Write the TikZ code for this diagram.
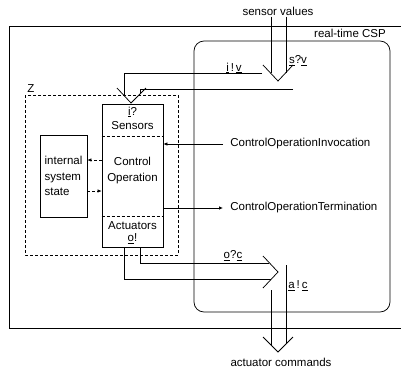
\documentclass[tikz,border=0pt]{standalone}
\usepackage{fontspec}
\setmainfont{Liberation Sans}
\usetikzlibrary{calc,arrows.meta}

\begin{document}
\begin{tikzpicture}[x=1pt, y=-1pt, line width=0.75pt,
  every node/.style={font=\fontsize{11.5}{13}\selectfont, inner sep=1pt},
  box/.style={draw, rectangle, inner sep=0pt},
  sep/.style={densely dashed, line width=0.6pt},
  tip/.style={-{Latex[length=4pt,width=3.5pt]}},
  op/.style={anchor=west, inner xsep=7pt}]
  \useasboundingbox (0,0) rectangle (401,368);
  % frames
  \draw (401,26) -- (9,26) -- (9,328) -- (401,328);
  \draw[rounded corners=10pt] (194,41) rectangle (390,312);
  \draw[sep] (25,95) rectangle (178,255);
  \node (csp) at (350,33) {real-time CSP};
  \node (z) at (31,89) {Z};
  % Z part
  \node[box, minimum width=61pt, minimum height=143pt] (ctrl) at (132.5,175.5) {};
  \draw[sep] (ctrl.west |- 0,136) -- (ctrl.east |- 0,136);
  \draw[sep] (ctrl.west |- 0,216) -- (ctrl.east |- 0,216);
  \node (iq) at (132.5,112) {\underline{i}?};
  \node (sens) at (132.5,126) {Sensors};
  \node[align=center, font=\fontsize{11.5}{16}\selectfont] (cop) at (132.5,171) {Control\\Operation};
  \node (act) at (132.5,226) {Actuators};
  \node (oe) at (132.5,239) {\underline{o}!};
  \node[box, minimum width=47pt, minimum height=82pt, align=left,
        font=\fontsize{11.5}{15.5}\selectfont] (state) at (63.5,176) {internal\\system\\state};
  \draw[sep, tip] (ctrl.west |- 0,160) -- (state.east |- 0,160);
  \draw[sep, tip] (state.east |- 0,191) -- (ctrl.west |- 0,191);
  % operations
  \node[op] (inv) at (223,144) {ControlOperationInvocation};
  \node[op] (term) at (223,208) {ControlOperationTermination};
  \draw[tip] (inv.west) -- (ctrl.east |- inv.west);
  \draw[tip] (ctrl.east |- term.west) -- (term.west);
  % sensor values
  \node (sv) at (278,11) {sensor values};
  \coordinate (s1) at (271,73);
  \coordinate (s2) at (286,73);
  \draw (sv.south -| s1) -- (s1);
  \draw (sv.south -| s2) -- (s2);
  \draw (263,65) -- (278,81) -- (293,65);
  \node (sq) at (298,61) {\underline{s}?\underline{v}};
  \node (iv) at (234,68) {\underline{i}\,!\,\underline{v}};
  \draw (262,73) -- (124,73) -- (124,96);
  \draw (293,89) -- (140,89) -- (140,93);
  \draw (117,88) -- (131,103) -- (146,88);
  % actuator commands
  \draw (ctrl.south -| 140,0) -- (140,263) -- (269,263);
  \draw (ctrl.south -| 124,0) -- (124,279) -- (271,279);
  \draw (263,256) -- (278,272) -- (263,288);
  \node (oc) at (233,256) {\underline{o}?\underline{c}};
  \node (ac) at (298,286) {\underline{a}\,!\,\underline{c}};
  \node (cmd) at (281,362) {actuator commands};
  \coordinate (a1) at (271,345);
  \coordinate (a2) at (286,344);
  \draw (271,290) -- (a1);
  \draw (286,265) -- (a2);
  \draw (263,337) -- (278,352) -- (293,337);
\end{tikzpicture}
\end{document}
